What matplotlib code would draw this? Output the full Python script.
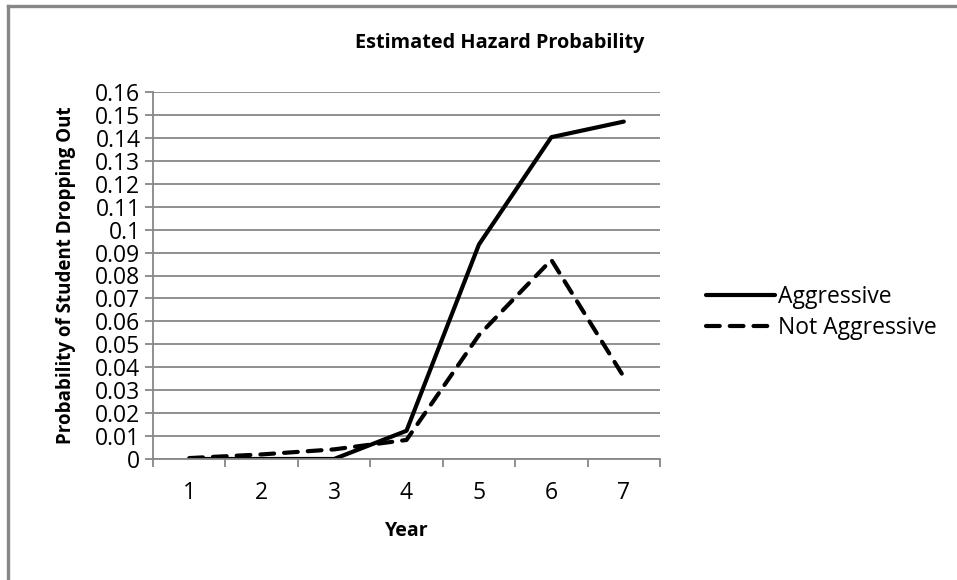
import numpy as np
import matplotlib.pyplot as plt
from matplotlib.lines import Line2D

plt.rcParams['font.family'] = ['Open Sans', 'DejaVu Sans']

years = [1, 2, 3, 4, 5, 6, 7]
aggressive = [0.0, 0.0, 0.0, 0.0123, 0.0935, 0.1403, 0.1471]
not_aggressive = [0.0004, 0.002, 0.0042, 0.0083, 0.054, 0.0868, 0.0358]
y_ticks = np.arange(0, 0.161, 0.01)

grey = '#878787'
W, H = 957, 580
fig = plt.figure(figsize=(W / 100, H / 100), dpi=100)
ax = fig.add_axes([153 / W, 1 - 459 / H, (660 - 153) / W, (459 - 92) / H])

ax.plot(years, aggressive, color='black', lw=3.0, solid_capstyle='round',
        label='Aggressive')
ax.plot(years, not_aggressive, color='black', lw=3.0, dashes=(3.3, 2.4),
        dash_capstyle='round', label='Not Aggressive')

ax.set_xlim(0.5, 7.5)
ax.set_ylim(0, 0.16)
ax.set_xticks(years)
ax.set_xticks(np.arange(0.5, 7.6, 1), minor=True)
ax.set_yticks(y_ticks)
ax.set_yticklabels([f"{v:g}" for v in np.round(y_ticks, 2)])
ax.tick_params(axis='x', which='major', length=0, pad=16, labelsize=16.5)
ax.tick_params(axis='x', which='minor', length=6, width=1.3, color=grey)
ax.tick_params(axis='y', length=6, width=1.3, color=grey, labelsize=16.5, pad=3)
ax.grid(axis='y', color=grey, lw=1.3)
ax.set_axisbelow(True)
for s in ['top', 'right']:
    ax.spines[s].set_visible(False)
for s in ['left', 'bottom']:
    ax.spines[s].set_color(grey)
    ax.spines[s].set_linewidth(1.3)

# title is centred on the (cropped) chart area, not on the plot
fig.text(500 / W, 1 - 43 / H, 'Estimated Hazard Probability', fontsize=14.3,
         fontweight='bold', ha='center', va='center')
ax.set_xlabel('Year', fontsize=14, fontweight='bold', labelpad=11)
ax.set_ylabel('Probability of Student Dropping Out', fontsize=13.5, fontweight='bold', labelpad=14)

ax.legend(loc='center left', bbox_to_anchor=(1.05, 0.4), frameon=False,
          fontsize=16.5, handlelength=3.0, handletextpad=0.15, labelspacing=0.3)

# outer chart frame, cut off at right and bottom
fig.add_artist(Line2D([8 / W, 1], [1 - 6 / H, 1 - 6 / H], color=grey, lw=2.4))
fig.add_artist(Line2D([8 / W, 8 / W], [0, 1 - 6 / H], color=grey, lw=2.4))
fig.text(10 / W, 1 + 3 / H, '(b)', fontsize=15, va='baseline')

fig.savefig('out.png', dpi=100)
